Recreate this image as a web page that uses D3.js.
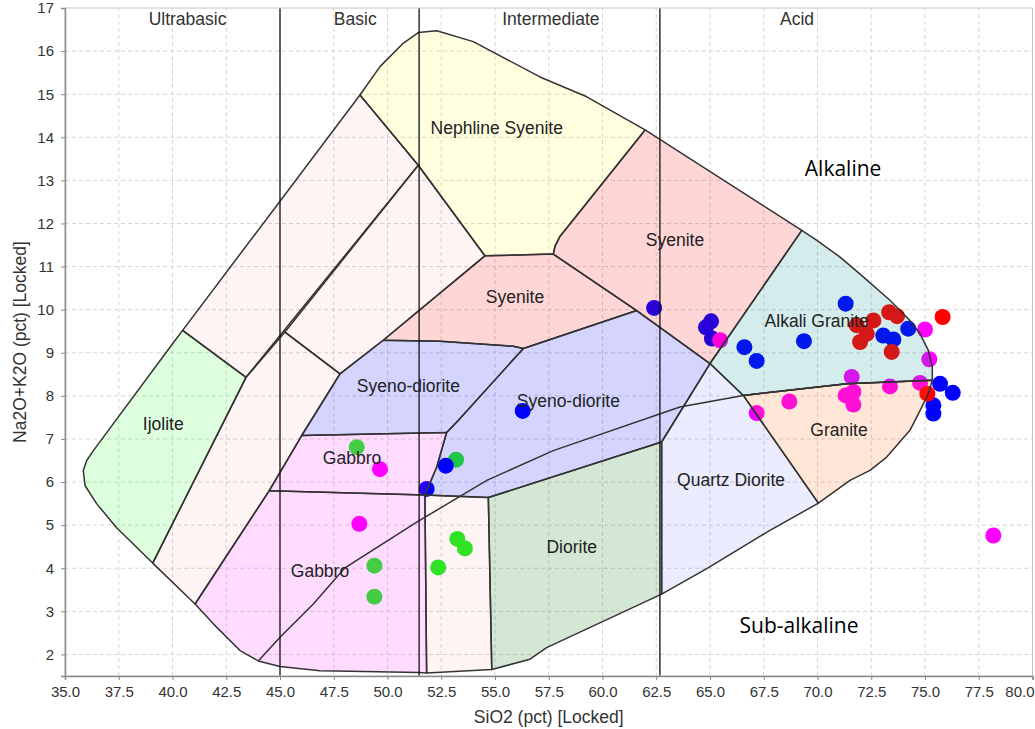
<!DOCTYPE html>
<html>
<head>
<meta charset="utf-8">
<script src="https://cdn.jsdelivr.net/npm/d3@7"></script>
<style>
  body { margin: 0; background: #fff; }
  svg { display: block; }
</style>
</head>
<body>
<svg id="chart" width="1035" height="729"></svg>
<script>
// ---- Axis ticks and silica classes ----
const xTicks = d3.range(35, 80.01, 2.5);
const yTicks = d3.range(2, 17.01, 1);
const silicaDivisions = [45, 51.47, 62.67];
const silicaClassNames = ["Ultrabasic", "Basic", "Intermediate", "Acid"];
const silicaClassCentres = [40.7, 48.5, 57.6, 69.05];

// ---- Rock-name fields, [SiO2, Na2O+K2O] ----
const ijolite = [[40.47,9.52],[43.42,8.43],[39.08,4.12],[37.40,4.94],[36.47,5.50],[35.93,5.92],[35.85,6.27],[36.01,6.50],[36.32,6.73],[40.02,9.22]];
const foidFieldUpper = [[40.47,9.52],[48.72,14.98],[51.43,13.35],[43.42,8.43]];
const foidFieldMiddle = [[45.23,9.48],[51.43,13.35],[54.53,11.25],[49.80,9.29],[47.79,8.51]];
const foidFieldLower = [[43.42,8.43],[45.23,9.48],[47.79,8.51],[46.01,7.08],[44.50,5.80],[41.05,3.17],[39.08,4.12]];
const nephelineSyenite = [[48.72,14.98],[49.65,15.64],[50.73,16.18],[51.43,16.43],[52.29,16.47],[53.99,16.22],[57.09,15.40],[59.27,14.94],[61.98,14.17],[58.02,11.70],[57.79,11.47],[57.71,11.29],[54.53,11.25],[51.43,13.35]];
const syeniteUpper = [[61.98,14.17],[69.27,11.84],[65.0,8.75],[61.59,9.98],[57.71,11.29],[57.79,11.47],[58.02,11.70]];
const syeniteLower = [[54.53,11.25],[57.71,11.29],[61.59,9.98],[56.32,9.10],[55.85,9.15],[52.44,9.27],[49.80,9.29]];
const syenodioriteLeft = [[47.79,8.51],[49.80,9.29],[52.44,9.27],[55.85,9.15],[56.32,9.10],[53.29,7.43],[52.75,7.15],[46.01,7.08]];
const syenodioriteRight = [[56.32,9.10],[61.59,9.98],[65.0,8.75],[62.75,6.93],[54.69,5.64],[51.74,5.70],[52.29,6.35],[52.75,7.15],[53.29,7.43]];
const gabbroUpper = [[46.01,7.08],[52.75,7.15],[52.29,6.35],[51.74,5.70],[44.50,5.80]];
const gabbroLower = [[44.50,5.80],[51.74,5.70],[51.82,1.57],[51.47,1.58],[48.26,1.61],[46.86,1.62],[45.0,1.72],[43.99,1.85],[43.14,2.09],[41.90,2.71],[41.05,3.17]];
const gabbroicDiorite = [[51.74,5.70],[54.69,5.64],[54.85,1.65],[51.82,1.57]];
const diorite = [[54.69,5.64],[62.75,6.93],[62.75,3.40],[57.40,2.16],[56.63,1.89],[54.85,1.65]];
const quartzDiorite = [[62.75,6.93],[65.0,8.75],[66.55,8.01],[70.04,5.51],[67.79,4.88],[64.85,3.99],[62.75,3.40]];
const alkaliGranite = [[69.27,11.84],[69.97,11.61],[71.05,11.22],[72.13,10.76],[73.37,10.22],[74.30,9.75],[74.77,9.44],[75.15,9.06],[75.34,8.67],[75.34,8.36],[71.36,8.28],[66.55,8.01],[65.0,8.75]];
const granite = [[66.55,8.01],[71.36,8.28],[75.34,8.36],[75.15,8.05],[74.85,7.74],[74.30,7.20],[73.22,6.58],[72.44,6.27],[71.51,6.04],[70.04,5.51]];

// Alkaline / sub-alkaline divide
const alkalineDivide = [[43.99,1.85],[45.0,2.40],[46.55,3.17],[48.02,4.01],[51.36,5.07],[54.62,6.04],[57.71,6.73],[63.60,7.74],[66.55,8.01],[71.36,8.28],[75.34,8.36]];

// Field names and label anchors
const fieldNames = ["Nephline Syenite","Syenite","Syenite","Syeno-diorite","Syeno-diorite","Gabbro","Gabbro","Diorite","Quartz Diorite","Alkali Granite","Granite","Ijolite"];
const fieldLabelAt = [[55.08,14.21],[63.37,11.61],[55.93,10.29],[50.97,8.23],[58.41,7.88],[48.35,6.55],[46.86,3.95],[58.57,4.49],[65.98,6.04],[69.96,9.73],[71.0,7.22],[39.57,7.35]];

// ---- Samples, [SiO2, Na2O+K2O] ----
const greenSamples = [[48.57,6.81],[53.19,6.52],[49.39,4.06],[49.39,3.34],[52.36,4.02],[53.25,4.68],[53.60,4.46]];
const blueSamples = [[62.40,10.04],[64.81,9.59],[65.05,9.73],[65.09,9.33],[66.60,9.13],[67.17,8.81],[69.37,9.27],[71.31,10.14],[73.06,9.40],[73.53,9.31],[74.22,9.56],[75.70,8.28],[76.29,8.07],[75.39,7.78],[75.39,7.59],[56.29,7.65],[52.71,6.38],[51.82,5.84]];
const magentaSamples = [[65.47,9.29],[75.0,9.54],[75.2,8.85],[71.59,8.44],[74.77,8.30],[73.37,8.22],[71.31,8.01],[71.67,8.09],[71.67,7.80],[68.69,7.87],[67.17,7.60],[49.65,6.30],[48.69,5.03],[78.18,4.76]];
const redSamples = [[73.33,9.94],[73.70,9.85],[75.82,9.83],[72.60,9.75],[71.82,9.64],[72.29,9.44],[71.98,9.25],[73.45,9.02],[75.11,8.05]];

// ---- Drawing ----
const svg = d3.select("#chart");
const margin = { left: 65, right: 1032.5, top: 8, bottom: 676 };
const x = d3.scaleLinear().domain([35, 80]).range([margin.left, margin.right]);
const y = d3.scaleLinear().domain([1.5, 17]).range([margin.bottom, margin.top]);
const font = "'Liberation Sans', Arial, sans-serif";

svg.append("rect").attr("width", 1035).attr("height", 729).attr("fill", "#fff");

const clip = svg.append("defs").append("clipPath").attr("id", "plotClip");
clip.append("rect").attr("x", x(35)).attr("y", y(17)).attr("width", x(80) - x(35)).attr("height", y(1.5) - y(17));

// grid
const grid = svg.append("g").attr("stroke", "#d6d6d6").attr("stroke-dasharray", "4,3").attr("stroke-width", 1);
grid.selectAll("line.v").data(xTicks.slice(1, -1)).join("line")
  .attr("x1", d => x(d)).attr("x2", d => x(d)).attr("y1", y(1.5)).attr("y2", y(17));
grid.selectAll("line.h").data(yTicks.filter(d => d < 17)).join("line")
  .attr("x1", x(35)).attr("x2", x(80)).attr("y1", d => y(d)).attr("y2", d => y(d));

const plot = svg.append("g").attr("clip-path", "url(#plotClip)");

// samples (fields are laid translucently over them)
const series = [
  { data: greenSamples, color: "#26ee26" },
  { data: blueSamples, color: "#0000ff" },
  { data: magentaSamples, color: "#ff00ff" },
  { data: redSamples, color: "#ff0000" }
];
series.forEach(s => {
  plot.append("g").selectAll("circle").data(s.data).join("circle")
    .attr("cx", d => x(d[0])).attr("cy", d => y(d[1])).attr("r", 8)
    .attr("fill", s.color);
});

const fields = [
  { pts: foidFieldUpper, fill: "rgba(255,0,0,0.045)" },
  { pts: foidFieldMiddle, fill: "rgba(255,0,0,0.045)" },
  { pts: foidFieldLower, fill: "rgba(255,0,0,0.045)" },
  { pts: gabbroicDiorite, fill: "rgba(255,0,0,0.045)" },
  { pts: ijolite, fill: "rgba(0,255,0,0.13)" },
  { pts: nephelineSyenite, fill: "rgba(255,255,0,0.12)" },
  { pts: syeniteUpper, fill: "rgba(255,0,0,0.16)" },
  { pts: syeniteLower, fill: "rgba(255,0,0,0.16)" },
  { pts: syenodioriteLeft, fill: "rgba(0,0,255,0.17)" },
  { pts: syenodioriteRight, fill: "rgba(0,0,255,0.17)" },
  { pts: gabbroUpper, fill: "rgba(255,0,255,0.14)" },
  { pts: gabbroLower, fill: "rgba(255,0,255,0.14)" },
  { pts: diorite, fill: "rgba(0,110,0,0.17)" },
  { pts: quartzDiorite, fill: "rgba(0,0,255,0.075)" },
  { pts: alkaliGranite, fill: "rgba(0,145,145,0.17)" },
  { pts: granite, fill: "rgba(255,100,0,0.16)" }
];
const line = d3.line().x(d => x(d[0])).y(d => y(d[1]));
plot.append("g").selectAll("path").data(fields).join("path")
  .attr("d", d => line(d.pts) + "Z")
  .attr("fill", d => d.fill)
  .attr("stroke", "#333")
  .attr("stroke-width", 1.5)
  .attr("stroke-linejoin", "round");

plot.append("path").attr("d", line(alkalineDivide))
  .attr("fill", "none").attr("stroke", "#333").attr("stroke-width", 1.5);

plot.append("g").selectAll("line").data(silicaDivisions).join("line")
  .attr("x1", d => x(d)).attr("x2", d => x(d)).attr("y1", y(1.5)).attr("y2", y(17))
  .attr("stroke", "#111").attr("stroke-width", 1.3);

// frame and axes
svg.append("rect").attr("x", x(35)).attr("y", y(17)).attr("width", x(80) - x(35)).attr("height", y(1.5) - y(17))
  .attr("fill", "none").attr("stroke", "#c4c4c4").attr("stroke-width", 1);

const xAxis = svg.append("g").attr("transform", `translate(0,${y(1.5)})`)
  .call(d3.axisBottom(x).tickValues(xTicks).tickFormat(d3.format(".1f")).tickSize(4).tickPadding(6));
const yAxis = svg.append("g").attr("transform", `translate(${x(35)},0)`)
  .call(d3.axisLeft(y).tickValues(yTicks).tickFormat(d3.format("d")).tickSize(4).tickPadding(7));
[xAxis, yAxis].forEach(a => {
  a.select(".domain").attr("stroke", "#8c8c8c").attr("stroke-width", 1.5);
  a.selectAll(".tick line").attr("stroke", "#8c8c8c");
  a.selectAll(".tick text").attr("fill", "#333").attr("font-family", font).attr("font-size", 15);
});
// the last x label sits against the right edge of the page
xAxis.selectAll(".tick text").filter(d => d === 80).attr("text-anchor", "end").attr("dx", 1.5);

// axis titles
svg.append("text").attr("x", x(57.5)).attr("y", 723)
  .attr("text-anchor", "middle").attr("font-family", font).attr("font-size", 17.5).attr("fill", "#333")
  .text("SiO2 (pct) [Locked]");
svg.append("text").attr("transform", `translate(26,${(y(1.5) + y(17)) / 2}) rotate(-90)`)
  .attr("text-anchor", "middle").attr("font-family", font).attr("font-size", 17.5).attr("fill", "#333")
  .text("Na2O+K2O (pct) [Locked]");

// silica class labels
svg.append("g").selectAll("text").data(silicaClassNames).join("text")
  .attr("x", (d, i) => x(silicaClassCentres[i])).attr("y", y(16.74))
  .attr("dy", "0.35em").attr("text-anchor", "middle")
  .attr("font-family", font).attr("font-size", 17.5).attr("fill", "#333")
  .text(d => d);

// field labels
svg.append("g").selectAll("text").data(fieldNames).join("text")
  .attr("x", (d, i) => x(fieldLabelAt[i][0])).attr("y", (d, i) => y(fieldLabelAt[i][1]))
  .attr("dy", "0.35em").attr("text-anchor", "middle")
  .attr("font-family", font).attr("font-size", 17.5).attr("fill", "#222")
  .text(d => d);

// series annotations
const seriesNames = ["Alkaline", "Sub-alkaline"];
const seriesNameAt = [[71.19, 13.27], [69.14, 2.67]];
svg.append("g").selectAll("text").data(seriesNames).join("text")
  .attr("x", (d, i) => x(seriesNameAt[i][0])).attr("y", (d, i) => y(seriesNameAt[i][1]))
  .attr("dy", "0.35em").attr("text-anchor", "middle")
  .attr("font-family", "'Open Sans', 'Noto Sans', sans-serif").attr("font-size", 21)
  .attr("font-weight", 400).attr("fill", "#000")
  .text(d => d);
</script>
</body>
</html>
